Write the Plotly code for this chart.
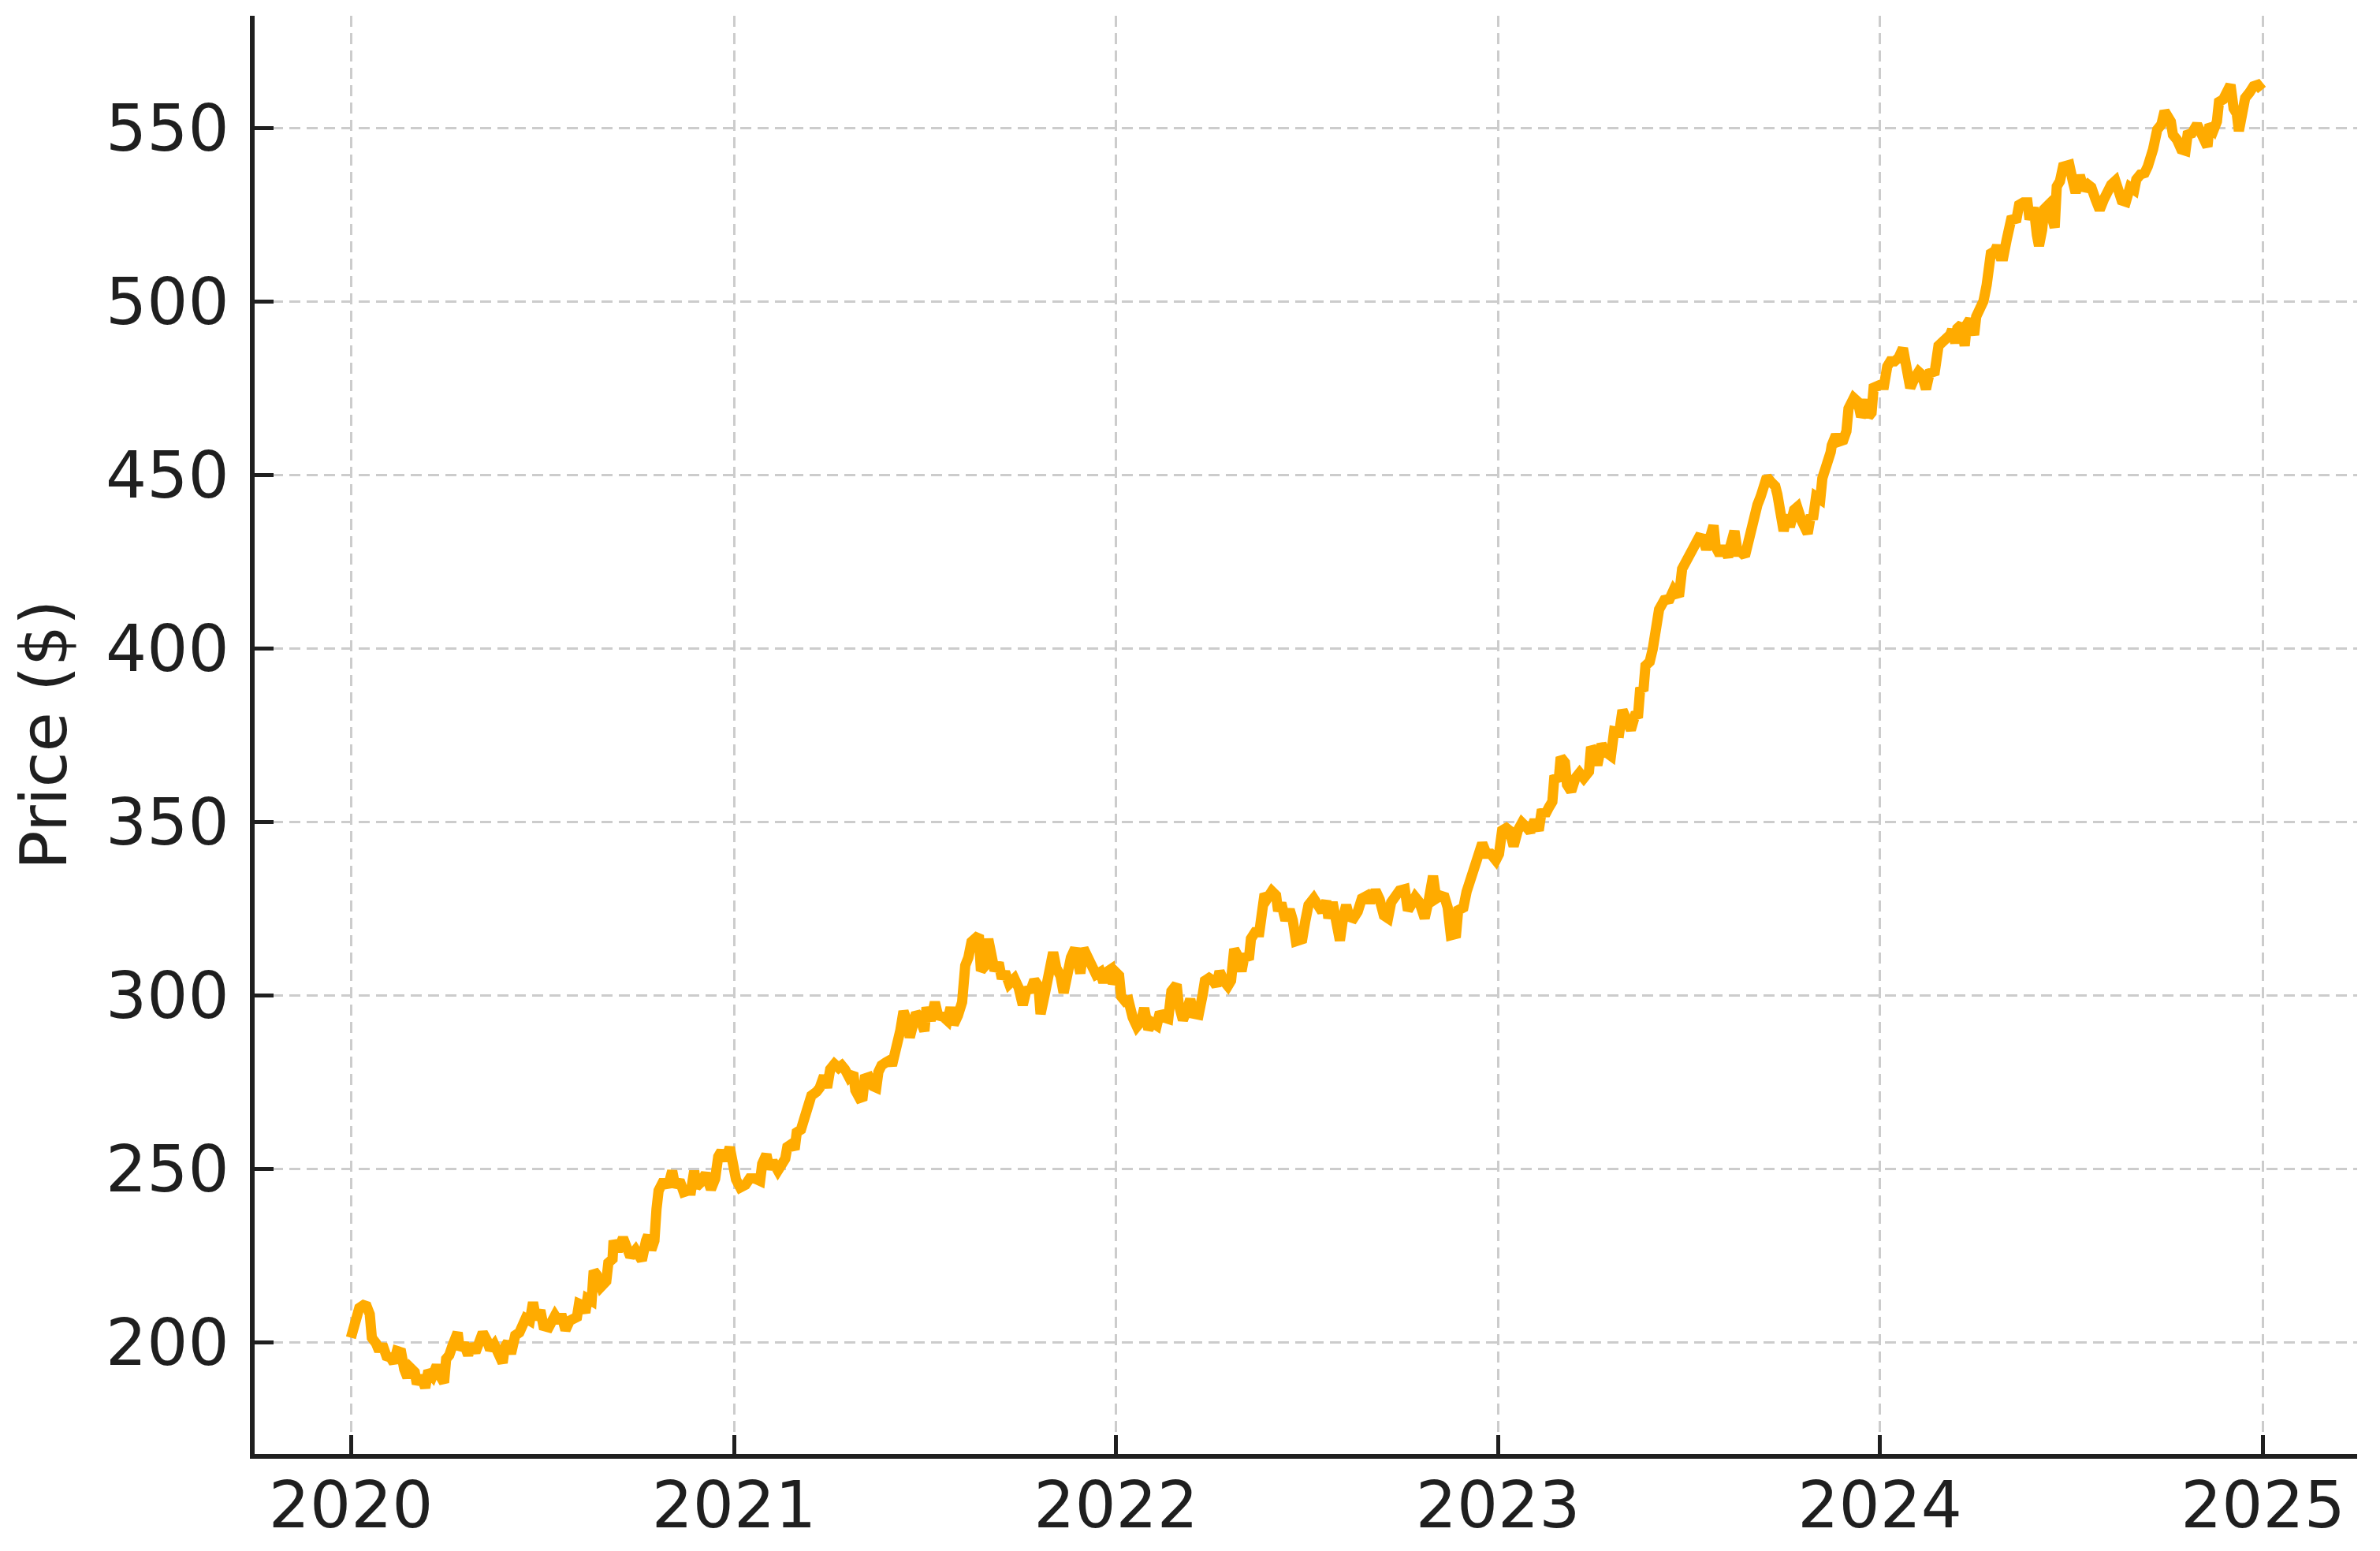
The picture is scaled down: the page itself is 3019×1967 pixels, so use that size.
import pandas as pd
import plotly.graph_objects as go

# x position of each reading, as days since 2020-01-01
day = [
    0, 2, 5, 8, 12, 15, 18, 20, 24, 27, 30, 34, 38, 41, 44, 48, 51, 54, 57, 61,
    63, 67, 71, 74, 78, 82, 86, 89, 91, 94, 97, 102, 104, 108, 112, 115, 119, 122, 126, 130,
    133, 137, 141, 145, 147, 150, 153, 157, 161, 164, 167, 171, 174, 177, 181, 184, 189, 195, 199, 201,
    205, 209, 212, 216, 218, 221, 224, 226, 230, 232, 235, 239, 244, 246, 250, 251, 255, 260, 264, 267,
    272, 275, 278, 282, 284, 287, 290, 292, 294, 299, 303, 307, 310, 314, 318, 322, 325, 328, 330, 334,
    339, 344, 348, 351, 354, 358, 362, 368, 372, 377, 381, 386, 391, 393, 397, 400, 403, 408, 411, 415,
    417, 421, 424, 426, 430, 433, 436, 440, 445, 448, 452, 455, 458, 462, 466, 469, 472, 476, 480, 482,
    486, 489, 491, 495, 499, 502, 504, 507, 511, 515, 517, 520, 522, 525, 528, 531, 534, 537, 540, 543,
    548, 550, 554, 558, 561, 566, 570, 573, 576, 580, 584, 587, 590, 593, 597, 600, 602, 605, 609, 612,
    615, 619, 622, 625, 629, 634, 638, 642, 646, 649, 653, 657, 659, 663, 667, 671, 674, 678, 681, 685,
    688, 692, 697, 700, 703, 707, 712, 716, 719, 722, 726, 728, 732, 734, 736, 740, 743, 747, 751, 755,
    758, 762, 766, 770, 773, 777, 781, 784, 789, 791, 795, 799, 802, 805, 810, 814, 816, 820, 824, 827,
    830, 834, 838, 841, 844, 848, 851, 854, 858, 860, 864, 868, 870, 873, 876, 880, 884, 886, 889, 893,
    897, 900, 903, 906, 909, 912, 915, 920, 924, 928, 932, 934, 938, 941, 945, 948, 951, 954, 958, 962,
    966, 971, 974, 979, 983, 987, 991, 994, 998, 1002, 1007, 1010, 1013, 1017, 1021, 1026, 1030, 1034, 1037, 1041,
    1045, 1048, 1051, 1056, 1058, 1063, 1066, 1070, 1074, 1077, 1081, 1085, 1089, 1094, 1097, 1100, 1104, 1107, 1111, 1115,
    1119, 1124, 1127, 1131, 1135, 1138, 1141, 1145, 1148, 1150, 1154, 1156, 1160, 1162, 1166, 1170, 1174, 1178, 1183, 1185,
    1188, 1191, 1195, 1199, 1204, 1207, 1212, 1215, 1219, 1223, 1227, 1230, 1232, 1235, 1237, 1241, 1244, 1247, 1250, 1255,
    1260, 1264, 1269, 1272, 1276, 1281, 1284, 1288, 1292, 1295, 1298, 1302, 1304, 1308, 1312, 1316, 1318, 1322, 1325, 1328,
    1332, 1335, 1338, 1342, 1344, 1347, 1350, 1353, 1357, 1361, 1363, 1366, 1369, 1372, 1375, 1379, 1382, 1386, 1389, 1392,
    1395, 1397, 1400, 1404, 1406, 1410, 1414, 1415, 1419, 1422, 1426, 1429, 1431, 1436, 1440, 1443, 1445, 1448, 1450, 1453,
    1455, 1461, 1465, 1468, 1471, 1475, 1479, 1483, 1486, 1490, 1494, 1498, 1501, 1505, 1509, 1513, 1517, 1520, 1524, 1528,
    1530, 1533, 1535, 1539, 1542, 1544, 1547, 1551, 1553, 1557, 1560, 1563, 1566, 1567, 1571, 1573, 1576, 1579, 1582, 1584,
    1587, 1591, 1594, 1598, 1602, 1604, 1608, 1611, 1613, 1616, 1618, 1622, 1625, 1628, 1630, 1633, 1636, 1640, 1642, 1645,
    1648, 1652, 1656, 1660, 1663, 1667, 1671, 1675, 1679, 1682, 1686, 1689, 1692, 1696, 1700, 1704, 1706, 1710, 1714, 1717,
    1719, 1722, 1726, 1730, 1733, 1736, 1739, 1741, 1745, 1749, 1753, 1755, 1759, 1764, 1768, 1771, 1774, 1776, 1780, 1783,
    1785, 1789, 1793, 1796, 1799, 1802, 1804, 1807, 1810, 1814, 1818, 1822, 1826,
]

price = [
    201.4, 203.6, 205.9, 210.0, 210.8, 210.5, 208.2, 201.4, 199.8, 197.6, 199.5, 196.1, 195.7, 194.2, 197.6, 197.2, 192.3, 190.0, 192.7, 191.5,
    188.1, 190.4, 187.0, 191.9, 190.4, 193.4, 190.0, 188.5, 195.3, 196.4, 199.1, 202.9, 198.0, 199.8, 196.4, 199.5, 197.2, 199.1, 202.9, 200.6,
    198.0, 199.5, 196.1, 194.2, 198.7, 200.2, 196.8, 202.1, 202.9, 205.2, 207.0, 206.3, 211.6, 206.7, 209.3, 204.8, 204.4, 207.8, 205.9, 208.2,
    203.6, 206.3, 206.7, 207.4, 211.2, 210.8, 208.6, 212.7, 212.0, 220.7, 219.5, 216.1, 217.7, 223.0, 224.1, 229.4, 226.4, 230.2, 227.1, 224.8,
    226.7, 225.6, 223.7, 229.4, 230.9, 226.7, 229.4, 238.5, 243.8, 246.8, 244.9, 249.5, 244.9, 246.8, 243.4, 243.8, 243.8, 249.5, 244.9, 246.1,
    248.7, 244.2, 247.2, 253.6, 255.2, 252.5, 256.3, 247.0, 244.7, 245.5, 247.3, 247.3, 246.6, 251.5, 254.2, 250.0, 252.3, 249.6, 251.5, 253.0,
    256.4, 257.2, 255.7, 260.6, 261.4, 264.8, 266.7, 271.2, 272.3, 273.5, 276.9, 273.5, 278.8, 280.3, 279.2, 279.9, 278.8, 276.5, 277.7, 272.7,
    270.5, 270.8, 276.1, 276.5, 273.9, 273.5, 278.0, 279.9, 280.7, 281.4, 279.9, 283.0, 285.6, 290.0, 295.5, 293.0, 288.0, 293.0, 295.0, 294.0,
    289.8, 296.6, 292.8, 298.1, 294.3, 293.9, 292.8, 296.6, 291.7, 294.3, 298.1, 308.7, 311.0, 315.5, 316.3, 317.4, 307.2, 308.3, 316.3, 311.7,
    307.2, 309.5, 304.9, 306.8, 303.4, 304.9, 302.3, 297.3, 302.3, 301.1, 304.5, 302.7, 294.7, 300.4, 308.0, 312.5, 308.0, 305.7, 300.8, 309.5,
    311.0, 313.6, 306.4, 313.6, 311.4, 308.3, 306.1, 306.8, 303.8, 306.8, 307.6, 303.4, 306.4, 305.8, 299.8, 298.3, 298.6, 293.7, 291.1, 292.6,
    296.4, 290.3, 292.2, 291.4, 295.2, 293.7, 293.3, 301.3, 303.2, 297.5, 293.0, 296.0, 299.0, 294.8, 294.5, 300.5, 304.3, 305.1, 304.3, 302.8,
    307.0, 304.3, 302.8, 304.3, 313.4, 311.1, 307.0, 311.9, 310.4, 316.4, 318.3, 318.3, 323.6, 329.3, 328.2, 330.1, 328.9, 324.4, 326.7, 321.7,
    324.8, 321.7, 315.7, 315.7, 316.3, 321.6, 326.1, 328.0, 325.4, 324.2, 327.3, 322.3, 326.9, 323.1, 315.9, 322.3, 326.1, 322.7, 322.3, 324.2,
    328.0, 328.8, 326.9, 330.3, 327.7, 323.1, 322.3, 326.9, 328.8, 330.3, 330.7, 324.6, 326.1, 328.4, 326.9, 322.3, 327.7, 334.5, 328.0, 328.8,
    328.4, 325.4, 317.4, 317.8, 324.6, 325.4, 329.9, 333.3, 336.7, 339.0, 343.9, 340.9, 340.9, 339.0, 340.8, 347.6, 348.3, 347.6, 343.1, 347.6,
    349.8, 348.3, 347.2, 350.6, 347.6, 353.6, 352.1, 354.4, 355.9, 363.4, 361.9, 368.7, 367.2, 360.8, 358.9, 362.7, 364.2, 362.7, 364.6, 371.7,
    370.2, 366.4, 372.5, 370.2, 369.1, 376.2, 375.9, 382.3, 378.5, 376.6, 380.8, 381.1, 388.7, 387.9, 395.1, 396.2, 400.0, 404.9, 411.3, 414.0,
    414.3, 417.0, 415.1, 423.0, 425.3, 428.6, 430.9, 432.0, 431.7, 428.6, 431.3, 435.5, 429.4, 427.1, 429.4, 426.4, 429.4, 433.9, 427.9, 427.9,
    426.7, 430.9, 434.7, 437.7, 441.5, 443.8, 446.8, 449.5, 448.0, 446.8, 444.5, 437.7, 433.9, 438.5, 435.1, 440.0, 440.8, 437.0, 434.7, 433.2,
    438.5, 437.3, 443.8, 443.0, 449.1, 452.1, 456.7, 458.6, 461.6, 459.7, 460.1, 462.7, 469.2, 472.2, 471.1, 466.9, 468.0, 471.8, 466.9, 468.0,
    475.2, 476.0, 476.0, 481.3, 482.8, 482.8, 483.9, 486.6, 482.0, 475.2, 477.9, 479.8, 479.0, 474.8, 480.2, 479.0, 487.3, 488.1, 488.5, 490.4,
    491.9, 488.1, 492.3, 493.4, 487.3, 493.4, 494.9, 490.4, 495.7, 498.0, 500.2, 504.8, 509.3, 513.9, 514.6, 516.1, 513.1, 513.1, 517.7, 519.9,
    524.5, 523.0, 527.9, 528.6, 528.6, 523.7, 527.1, 519.2, 516.1, 520.7, 526.7, 527.9, 522.6, 521.4, 533.2, 534.7, 538.9, 539.8, 539.4, 535.2,
    531.4, 536.4, 532.2, 533.7, 533.0, 529.5, 526.5, 529.5, 533.0, 533.7, 534.8, 532.2, 529.2, 528.8, 533.0, 532.2, 535.2, 536.7, 537.1, 539.0,
    542.8, 543.9, 549.6, 551.1, 554.9, 553.8, 551.9, 548.1, 546.6, 543.9, 543.5, 548.1, 548.5, 551.1, 548.1, 546.2, 544.7, 551.1, 549.6, 551.9,
    557.6, 558.3, 560.2, 562.5, 555.7, 554.2, 549.2, 553.4, 558.7, 560.2, 562.1, 562.5, 561.0,
]

year_ticks = ["2020-01-01", "2021-01-01", "2022-01-01", "2023-01-01", "2024-01-01", "2025-01-01"]
year_labels = ["2020", "2021", "2022", "2023", "2024", "2025"]
price_ticks = [200, 250, 300, 350, 400, 450, 500, 550]

dates = pd.Timestamp("2020-01-01") + pd.to_timedelta(day, unit="D")

INK = "#1f1f1f"
GRID = "#cccccc"
FONT = "DejaVu Sans"

fig = go.Figure(go.Scatter(
    x=dates,
    y=price,
    mode="lines",
    line=dict(color="#FFAB00", width=13),
    hoverinfo="skip",
))

# the page body adds an 8px margin, so the figure is a bit smaller than the window
fig.update_layout(
    width=3003,
    height=1951,
    paper_bgcolor="white",
    plot_bgcolor="white",
    showlegend=False,
    margin=dict(l=315, r=21, t=12, b=115, autoexpand=False),
    font=dict(family=FONT, size=82, color=INK),
    xaxis=dict(
        range=["2019-10-01", "2025-04-01"],
        tickvals=year_ticks,
        ticktext=year_labels,
        ticks="inside",
        ticklen=24,
        tickwidth=5,
        tickcolor=INK,
        showline=True,
        linewidth=6,
        linecolor=INK,
        showgrid=True,
        gridcolor=GRID,
        gridwidth=3,
        griddash="14px,8px",
        zeroline=False,
        ticklabelstandoff=-11,
        tickfont=dict(family=FONT, size=82, color=INK),
    ),
    yaxis=dict(
        range=[167.9, 582.4],
        tickvals=price_ticks,
        ticks="inside",
        ticklen=24,
        tickwidth=5,
        tickcolor=INK,
        showline=True,
        linewidth=6,
        linecolor=INK,
        showgrid=True,
        gridcolor=GRID,
        gridwidth=3,
        griddash="14px,8px",
        zeroline=False,
        ticklabelstandoff=10,
        tickfont=dict(family=FONT, size=82, color=INK),
        title=dict(text="Price ($)", standoff=42, font=dict(family=FONT, size=82, color=INK)),
    ),
)

fig.write_html("out.html")
